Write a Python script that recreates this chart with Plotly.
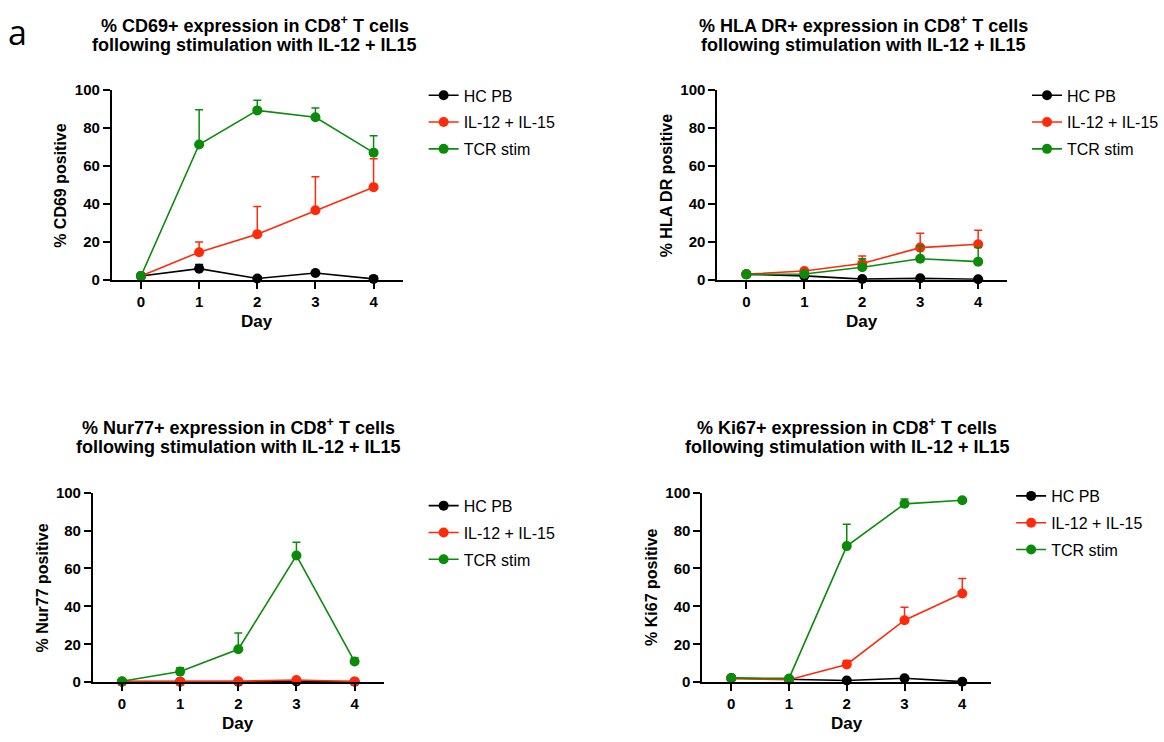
import plotly.graph_objects as go

W, H = 1164, 742

days = [0, 1, 2, 3, 4]
series_names = ["HC PB", "IL-12 + IL-15", "TCR stim"]
series_colors = ["#000000", "#FF2A0A", "#0A8C0A"]

# CD69
cd69_hc = [1.9, 5.8, 0.6, 3.5, 0.4]
cd69_hc_err = [0.3, 2.2, 0.3, 0.6, 0.2]
cd69_il = [1.9, 14.5, 24.0, 36.6, 48.8]
cd69_il_err = [0.3, 5.3, 14.6, 17.7, 15.0]
cd69_tcr = [1.9, 71.3, 89.3, 85.7, 67.0]
cd69_tcr_err = [0.3, 18.3, 5.4, 4.9, 8.9]

# HLA DR
hla_hc = [2.8, 2.0, 0.3, 0.7, 0.2]
hla_hc_err = [0.3, 0.3, 0.2, 0.3, 0.2]
hla_il = [2.9, 4.6, 8.5, 16.9, 18.7]
hla_il_err = [0.3, 0.5, 4.0, 7.6, 7.3]
hla_tcr = [2.8, 3.0, 6.5, 11.0, 9.5]
hla_tcr_err = [0.3, 0.4, 4.5, 6.8, 7.4]

# Nur77
nur_hc = [0.3, 0.3, 0.3, 0.4, 0.3]
nur_hc_err = [0.1, 0.1, 0.1, 0.1, 0.1]
nur_il = [0.3, 0.3, 0.5, 1.2, 0.4]
nur_il_err = [0.1, 0.1, 0.1, 0.3, 0.1]
nur_tcr = [0.5, 5.6, 17.4, 66.8, 10.9]
nur_tcr_err = [0.2, 2.0, 8.6, 7.0, 2.0]

# Ki67
ki_hc = [2.2, 1.4, 0.9, 2.1, 0.3]
ki_hc_err = [0.3, 0.3, 0.3, 0.4, 0.1]
ki_il = [1.9, 1.3, 9.4, 32.7, 46.8]
ki_il_err = [0.3, 0.3, 2.0, 6.9, 7.9]
ki_tcr = [2.2, 2.0, 71.8, 94.1, 96.0]
ki_tcr_err = [0.3, 0.3, 11.5, 2.6, 0.4]

y_ticks = [0, 20, 40, 60, 80, 100]

panels = [
    dict(title1="% CD69+ expression in CD8<sup>+</sup> T cells",
         title2="following stimulation with IL-12 + IL15",
         ytitle="% CD69 positive",
         data=[(cd69_hc, cd69_hc_err), (cd69_il, cd69_il_err), (cd69_tcr, cd69_tcr_err)],
         box=(112, 403, 83, 277), title_cx=255, title_y=(16, 37), day_y=320,
         ytitle_x=61, legend_x=424, legend_y=71),
    dict(title1="% HLA DR+ expression in CD8<sup>+</sup> T cells",
         title2="following stimulation with IL-12 + IL15",
         ytitle="% HLA DR positive",
         data=[(hla_hc, hla_hc_err), (hla_il, hla_il_err), (hla_tcr, hla_tcr_err)],
         box=(718, 1008, 83, 277), title_cx=864, title_y=(16, 37), day_y=320,
         ytitle_x=667, legend_x=1028, legend_y=71),
    dict(title1="% Nur77+ expression in CD8<sup>+</sup> T cells",
         title2="following stimulation with IL-12 + IL15",
         ytitle="% Nur77 positive",
         data=[(nur_hc, nur_hc_err), (nur_il, nur_il_err), (nur_tcr, nur_tcr_err)],
         box=(93, 384, 495, 689), title_cx=239, title_y=(427, 448), day_y=731,
         ytitle_x=42, legend_x=424, legend_y=491),
    dict(title1="% Ki67+ expression in CD8<sup>+</sup> T cells",
         title2="following stimulation with IL-12 + IL15",
         ytitle="% Ki67 positive",
         data=[(ki_hc, ki_hc_err), (ki_il, ki_il_err), (ki_tcr, ki_tcr_err)],
         box=(703, 992, 495, 689), title_cx=848, title_y=(427, 448), day_y=731,
         ytitle_x=652, legend_x=1012, legend_y=481),
]

fig = go.Figure()
annotations = []
bold = "Liberation Sans, Arial, sans-serif"

for i, p in enumerate(panels):
    k = "" if i == 0 else str(i + 1)
    xa, ya = "x" + k, "y" + k
    lg = "legend" if i == 0 else "legend" + str(i + 1)
    for j, ((vals, err), name, col) in enumerate(zip(p["data"], series_names, series_colors)):
        fig.add_trace(go.Scatter(
            x=days, y=vals, name=name, mode="lines+markers",
            xaxis=xa, yaxis=ya, legend=lg, legendgroup=f"p{i}s{j}", cliponaxis=False,
            line=dict(color=col, width=1.6),
            marker=dict(color=col, size=10, symbol="circle"),
            error_y=dict(type="data", symmetric=False, array=err,
                         arrayminus=[0] * len(err), color=col,
                         thickness=1.5, width=4),
        ))
    x0, x1, y0, y1 = p["box"]
    xd = [x0 / W, x1 / W]
    yd = [1 - y1 / H, 1 - y0 / H]
    fig.layout["xaxis" + k] = dict(
        domain=xd, anchor=ya, range=[-0.5, 4.5], tickvals=days,
        showline=True, linecolor="black", linewidth=2,
        ticks="outside", ticklen=7, tickwidth=2, tickcolor="black",
        showgrid=False, zeroline=False,
        tickfont=dict(family=bold, size=15, color="black", weight="bold"),
    )
    fig.layout["yaxis" + k] = dict(
        domain=yd, anchor=xa, range=[0, 100], tickvals=y_ticks,
        showline=True, linecolor="black", linewidth=2,
        ticks="outside", ticklen=7, tickwidth=2, tickcolor="black",
        showgrid=False, zeroline=False,
        tickfont=dict(family=bold, size=15, color="black", weight="bold"),
    )
    fig.layout[lg] = dict(
        x=p["legend_x"] / W, y=1 - p["legend_y"] / H, xanchor="left", yanchor="top",
        xref="paper", yref="paper", bgcolor="rgba(0,0,0,0)",
        font=dict(family="Liberation Sans, Arial, sans-serif", size=16, color="black"),
        itemwidth=30, tracegroupgap=3,
    )
    for line_text, ty in zip((p["title1"], p["title2"]), p["title_y"]):
        annotations.append(dict(
            text="<b>" + line_text + "</b>", x=p["title_cx"] / W, y=1 - ty / H,
            xref="paper", yref="paper", xanchor="center", yanchor="middle",
            showarrow=False, font=dict(family=bold, size=18, color="black")))
    annotations.append(dict(
        text="<b>Day</b>", x=((x0 + x1) / 2) / W, y=1 - p["day_y"] / H,
        xref="paper", yref="paper", xanchor="center", yanchor="middle",
        showarrow=False, font=dict(family=bold, size=17, color="black")))
    annotations.append(dict(
        text="<b>" + p["ytitle"] + "</b>", x=p["ytitle_x"] / W, y=1 - ((y0 + y1) / 2) / H,
        xref="paper", yref="paper", xanchor="center", yanchor="middle", textangle=-90,
        showarrow=False, font=dict(family=bold, size=16, color="black")))

annotations.append(dict(
    text="a", x=18 / W, y=1 - 24 / H, xref="paper", yref="paper",
    xanchor="center", yanchor="middle", showarrow=False,
    font=dict(family="Open Sans, Noto Sans, sans-serif", size=34, color="black")))

fig.update_layout(
    width=W, height=H, margin=dict(l=0, r=0, t=0, b=0),
    plot_bgcolor="white", paper_bgcolor="white",
    showlegend=True, annotations=annotations,
)

fig.write_html("out.html")
